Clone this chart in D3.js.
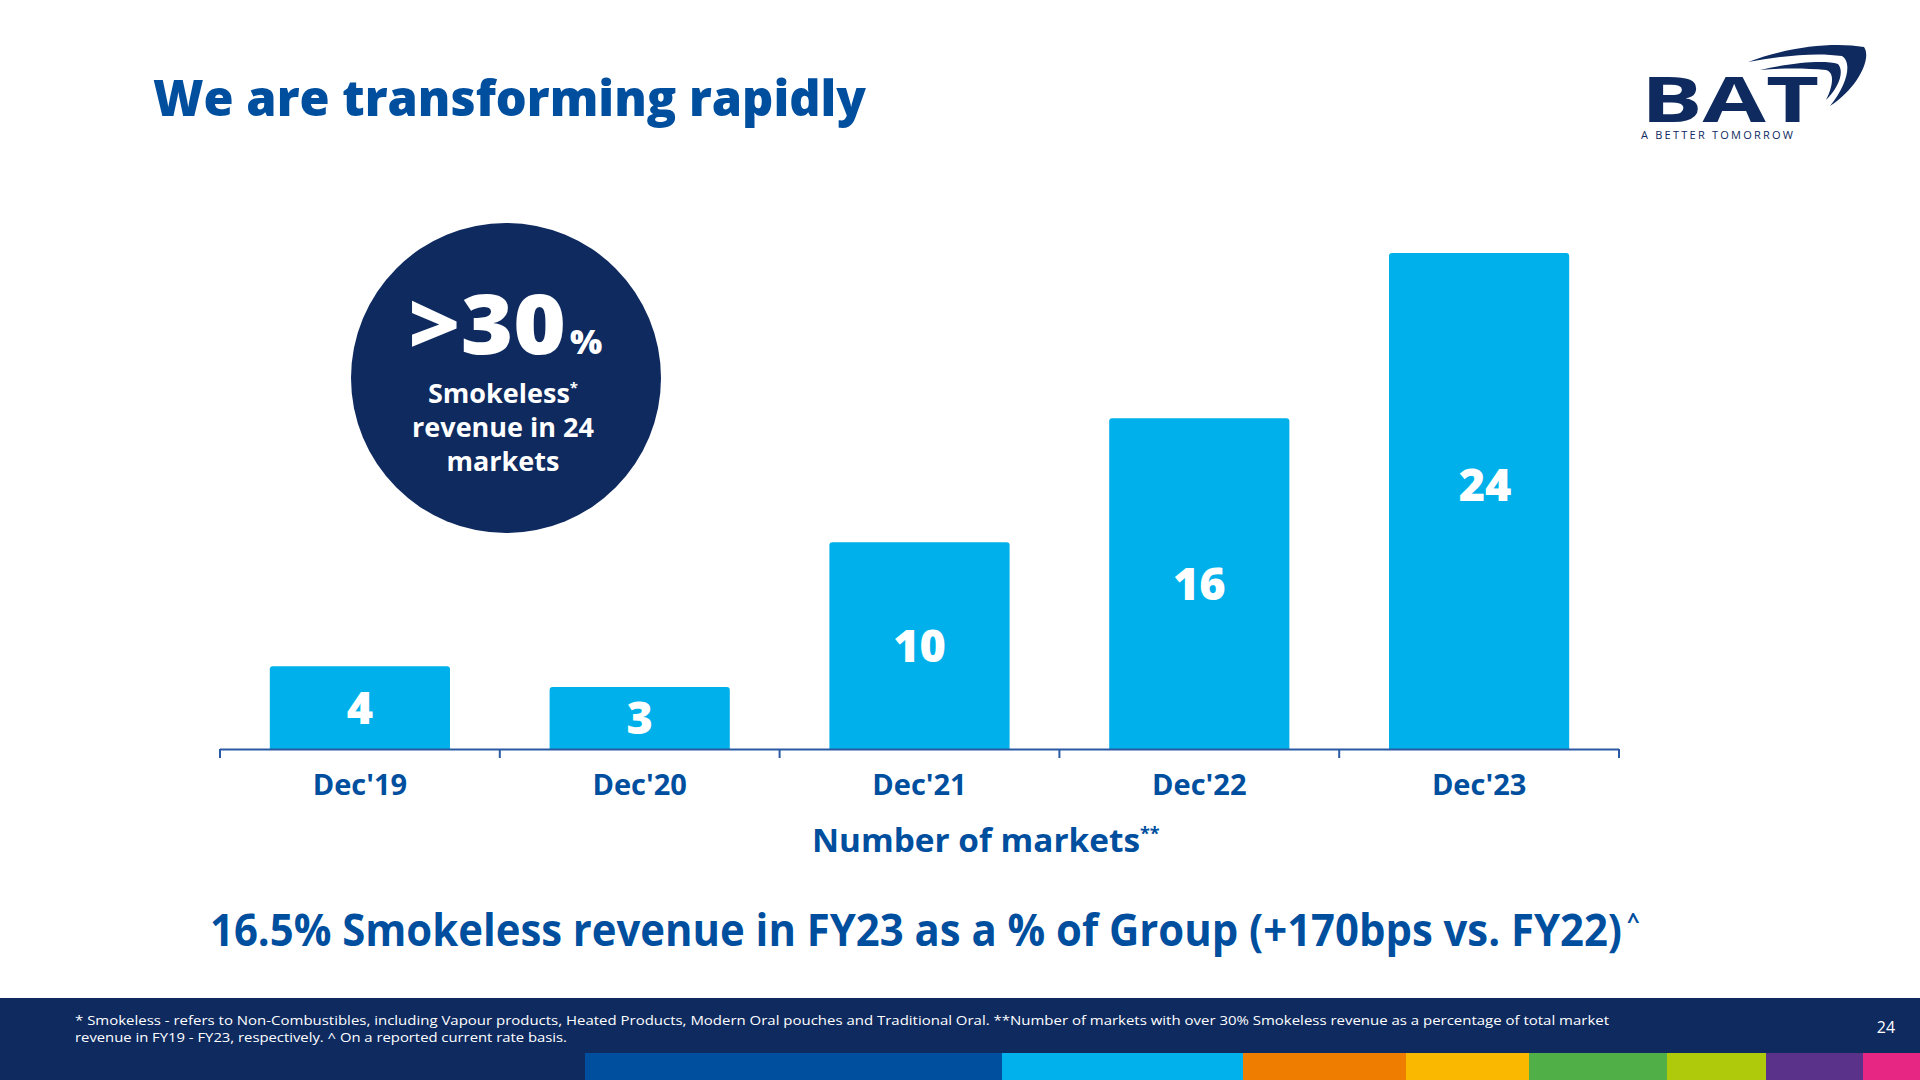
<!DOCTYPE html>
<html>
<head>
<meta charset="utf-8">
<script src="https://cdn.jsdelivr.net/npm/d3@7/dist/d3.min.js"></script>
<style>
  html, body { margin: 0; padding: 0; background: #ffffff; }
  svg { display: block; }
  text { font-family: "Open Sans", "Noto Sans", sans-serif; }
</style>
</head>
<body>
<svg id="chart" width="1920" height="1080"></svg>
<script>
// ---- data ----
const categories = ["Dec'19", "Dec'20", "Dec'21", "Dec'22", "Dec'23"];
const markets = [4, 3, 10, 16, 24];
const title = "We are transforming rapidly";
const axisTitle = "Number of markets";
const headline = "16.5% Smokeless revenue in FY23 as a % of Group (+170bps vs. FY22)";
const circleBig = ">30";
const circleLines = ["Smokeless", "revenue in 24", "markets"];
const footnote1 = "* Smokeless - refers to Non-Combustibles, including Vapour products, Heated Products, Modern Oral pouches and Traditional Oral. **Number of markets with over 30% Smokeless revenue as a percentage of total market";
const footnote2 = "revenue in FY19 - FY23, respectively. ^ On a reported current rate basis.";
const pageNumber = "24";
const stripColors = ["#004f9f", "#00b1eb", "#ef7d00", "#fab800", "#50af47", "#afca0b", "#5a328a", "#e72582"];

// ---- style ----
const BLUE = "#004f9f";
const NAVY = "#0e2a5f";
const BAR = "#00b0ea";

const svg = d3.select("#chart");

// title
svg.append("text")
  .attr("x", 153).attr("y", 116)
  .attr("fill", BLUE)
  .attr("font-size", 50).attr("font-weight", 800)
  .attr("textLength", 713).attr("lengthAdjust", "spacingAndGlyphs")
  .text(title);

// logo
const logo = svg.append("g");
logo.append("text")
  .attr("x", 1641).attr("y", 122)
  .attr("fill", NAVY)
  .attr("font-size", 62).attr("font-weight", 700)
  .attr("font-family", "'DejaVu Sans', sans-serif")
  .attr("textLength", 178).attr("lengthAdjust", "spacingAndGlyphs")
  .text("BAT");
logo.append("path")
  .attr("fill", NAVY)
  .attr("d", "M1748,62 C1790,46 1835,42 1864,47 C1872,58 1858,88 1830,106 C1848,84 1852,62 1842,56 C1815,52 1782,56 1748,62 Z");
logo.append("path")
  .attr("fill", NAVY)
  .attr("d", "M1760,70 C1795,62 1825,60 1838,64 C1845,72 1838,88 1826,100 C1834,84 1834,72 1826,70 C1805,68 1782,68 1760,70 Z");
logo.append("text")
  .attr("x", 1641).attr("y", 139)
  .attr("fill", NAVY)
  .attr("font-size", 11).attr("font-weight", 500)
  .attr("textLength", 152).attr("lengthAdjust", "spacing")
  .text("A BETTER TOMORROW");

// scales
const x = d3.scaleBand()
  .domain(categories)
  .range([220, 1619])
  .paddingInner(0.356)
  .paddingOuter(0.178);
const y = d3.scaleLinear()
  .domain([0, 24])
  .range([749, 253]);

const data = categories.map((c, i) => ({ cat: c, v: markets[i] }));

// bars
svg.append("g").selectAll("path")
  .data(data)
  .enter().append("path")
  .attr("fill", BAR)
  .attr("d", d => {
    const x0 = x(d.cat), x1 = x0 + x.bandwidth(), y0 = y(d.v), yb = y(0), r = 3;
    return `M${x0},${yb} L${x0},${y0 + r} Q${x0},${y0} ${x0 + r},${y0} L${x1 - r},${y0} Q${x1},${y0} ${x1},${y0 + r} L${x1},${yb} Z`;
  });

// value labels
svg.append("g").selectAll("text")
  .data(data)
  .enter().append("text")
  .attr("x", d => x(d.cat) + x.bandwidth() / 2 + (d.v === 24 ? 6 : 0))
  .attr("y", d => (y(d.v) + y(0)) / 2 + 16 - (d.v === 24 ? 16 : 0))
  .attr("text-anchor", "middle")
  .attr("fill", "#ffffff")
  .attr("font-size", 45).attr("font-weight", 800)
  .text(d => d.v);

// axis
const step = x.step();
const gap = step - x.bandwidth();
const tickPos = categories.map(c => x(c) - gap / 2).concat([x(categories[categories.length - 1]) + x.bandwidth() + gap / 2]);
const axisG = svg.append("g").attr("transform", `translate(0,${y(0)})`);
axisG.call(d3.axisBottom(x).tickSize(0).tickSizeOuter(0).tickPadding(25));
axisG.select(".domain").remove();
axisG.selectAll(".tick text")
  .attr("fill", BLUE)
  .attr("font-size", 29).attr("font-weight", 700)
  .attr("font-family", "'Open Sans', sans-serif");
axisG.append("line")
  .attr("x1", tickPos[0]).attr("x2", tickPos[tickPos.length - 1])
  .attr("y1", 0.5).attr("y2", 0.5)
  .attr("stroke", "#2a5aa3").attr("stroke-width", 2);
axisG.selectAll("line.tk")
  .data(tickPos)
  .enter().append("line")
  .attr("class", "tk")
  .attr("x1", d => d).attr("x2", d => d)
  .attr("y1", 0).attr("y2", 9)
  .attr("stroke", "#2a5aa3").attr("stroke-width", 2);

// axis title
const at = svg.append("text")
  .attr("x", 812).attr("y", 852)
  .attr("fill", BLUE)
  .attr("font-size", 32).attr("font-weight", 700);
at.append("tspan").attr("textLength", 328).attr("lengthAdjust", "spacingAndGlyphs").text(axisTitle);
at.append("tspan").attr("font-size", 18).attr("dy", -12).text("**");

// circle
svg.append("circle")
  .attr("cx", 506).attr("cy", 378).attr("r", 155)
  .attr("fill", NAVY);
const big = svg.append("text")
  .attr("x", 408).attr("y", 354)
  .attr("fill", "#ffffff")
  .attr("font-weight", 800);
big.append("tspan").attr("font-size", 84).attr("textLength", 158).attr("lengthAdjust", "spacingAndGlyphs").text(circleBig);
big.append("tspan").attr("font-size", 34).attr("dx", 4).text("%");

svg.append("g").selectAll("text")
  .data(circleLines)
  .enter().append("text")
  .attr("x", 503)
  .attr("y", (d, i) => 403 + i * 34)
  .attr("text-anchor", "middle")
  .attr("fill", "#ffffff")
  .attr("font-size", 27).attr("font-weight", 700)
  .each(function(d, i) {
    const t = d3.select(this);
    t.append("tspan").text(d);
    if (i === 0) t.append("tspan").attr("font-size", 15).attr("dy", -10).text("*");
  });

// headline
const hl = svg.append("text")
  .attr("x", 210).attr("y", 946)
  .attr("fill", BLUE)
  .attr("font-size", 44).attr("font-weight", 700);
hl.append("tspan").attr("textLength", 1412).attr("lengthAdjust", "spacingAndGlyphs").text(headline);
hl.append("tspan").attr("font-size", 22).attr("dy", -18).attr("dx", 5).text("^");

// footer
svg.append("rect")
  .attr("x", 0).attr("y", 998).attr("width", 1920).attr("height", 82)
  .attr("fill", NAVY);
svg.append("text")
  .attr("x", 75).attr("y", 1025)
  .attr("fill", "#ffffff").attr("font-size", 13.5)
  .attr("textLength", 1534).attr("lengthAdjust", "spacingAndGlyphs")
  .text(footnote1);
svg.append("text")
  .attr("x", 75).attr("y", 1042)
  .attr("fill", "#ffffff").attr("font-size", 13.5)
  .attr("textLength", 492).attr("lengthAdjust", "spacingAndGlyphs")
  .text(footnote2);
svg.append("text")
  .attr("x", 1886).attr("y", 1033)
  .attr("text-anchor", "middle")
  .attr("fill", "#ffffff").attr("font-size", 16)
  .text(pageNumber);

// colour strip
const stripEdges = [585, 1002, 1243, 1406, 1529, 1667, 1766, 1863, 1920];
svg.append("g").selectAll("rect")
  .data(stripColors)
  .enter().append("rect")
  .attr("x", (d, i) => stripEdges[i])
  .attr("y", 1053)
  .attr("width", (d, i) => stripEdges[i + 1] - stripEdges[i])
  .attr("height", 27)
  .attr("fill", d => d);
</script>
</body>
</html>
